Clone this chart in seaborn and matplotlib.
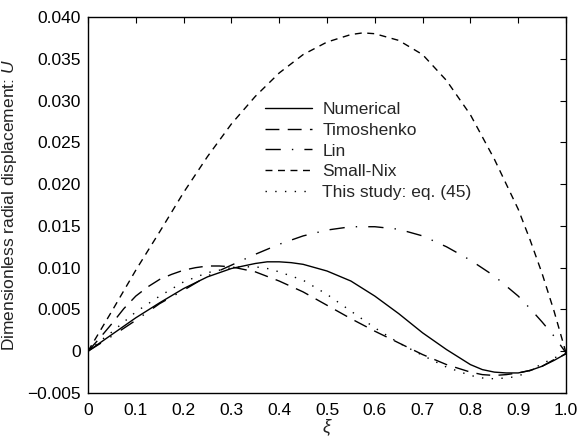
import numpy as np
import pandas as pd
import matplotlib
matplotlib.use("Agg")
import matplotlib.pyplot as plt
import seaborn as sns

# ---- data ----
xi_num = [0.0, 0.025, 0.05, 0.1, 0.15, 0.2, 0.25, 0.3, 0.35, 0.375, 0.4, 0.425, 0.45, 0.5,
          0.55, 0.6, 0.65, 0.7, 0.75, 0.8, 0.825, 0.85, 0.875, 0.9, 0.925, 0.95, 0.975, 1.0]
numerical = [0.0, 0.0010, 0.0020, 0.0040, 0.0058, 0.0075, 0.0089, 0.0099, 0.0105, 0.0107,
             0.0107, 0.0106, 0.0104, 0.0096, 0.0084, 0.0066, 0.0045, 0.0022, 0.0002,
             -0.0016, -0.0022, -0.0025, -0.0026, -0.0026, -0.0023, -0.0018, -0.0011, -0.0003]

xi_tim = [0.0, 0.025, 0.05, 0.075, 0.1, 0.125, 0.15, 0.175, 0.2, 0.225, 0.25, 0.275, 0.3,
          0.35, 0.4, 0.45, 0.5, 0.55, 0.6, 0.65, 0.7, 0.75, 0.8, 0.825, 0.85, 0.875, 0.9,
          0.925, 0.95, 0.975, 1.0]
timoshenko = [0.0, 0.0016, 0.0033, 0.0051, 0.0066, 0.0077, 0.0086, 0.0092, 0.0097, 0.0100,
              0.0102, 0.0102, 0.0101, 0.0095, 0.0084, 0.0071, 0.0055, 0.0039, 0.0024,
              0.0010, -0.0004, -0.0016, -0.0025, -0.0028, -0.0029, -0.0028, -0.0026,
              -0.0023, -0.0018, -0.0010, -0.0003]

xi_lin = [0.0, 0.05, 0.1, 0.15, 0.2, 0.25, 0.3, 0.35, 0.4, 0.45, 0.5, 0.55, 0.575, 0.6,
          0.65, 0.7, 0.75, 0.8, 0.85, 0.9, 0.925, 0.95, 0.975, 1.0]
lin = [0.0, 0.0018, 0.0037, 0.0057, 0.0073, 0.0090, 0.0103, 0.0116, 0.0128, 0.0138,
       0.0145, 0.0149, 0.0149, 0.0149, 0.0146, 0.0138, 0.0125, 0.0109, 0.0090, 0.0066,
       0.0051, 0.0035, 0.0018, -0.0002]

xi_sn = [0.0, 0.025, 0.05, 0.1, 0.15, 0.2, 0.25, 0.3, 0.35, 0.4, 0.45, 0.5, 0.55, 0.575,
         0.6, 0.65, 0.7, 0.75, 0.8, 0.85, 0.9, 0.925, 0.95, 0.975, 1.0]
small_nix = [0.0, 0.0024, 0.0048, 0.0097, 0.0143, 0.0190, 0.0233, 0.0272, 0.0305, 0.0333,
             0.0355, 0.0370, 0.0379, 0.0381, 0.0380, 0.0372, 0.0355, 0.0324, 0.0283,
             0.0230, 0.0170, 0.0133, 0.0093, 0.0048, -0.0002]

xi_ts = [0.0, 0.025, 0.05, 0.1, 0.15, 0.2, 0.25, 0.3, 0.325, 0.35, 0.375, 0.4, 0.45, 0.5,
         0.55, 0.6, 0.65, 0.7, 0.75, 0.8, 0.825, 0.85, 0.875, 0.9, 0.925, 0.95, 0.975, 1.0]
this_study = [0.0, 0.0012, 0.0023, 0.0047, 0.0066, 0.0083, 0.0094, 0.0100, 0.0101, 0.0101,
              0.0099, 0.0095, 0.0085, 0.0068, 0.0048, 0.0028, 0.0010, -0.0005, -0.0019,
              -0.0029, -0.0032, -0.0033, -0.0032, -0.0030, -0.0023, -0.0015, -0.0008,
              -0.0003]

series_names = ["Numerical", "Timoshenko", "Lin", "Small-Nix", "This study: eq. (45)"]
series_x = [xi_num, xi_tim, xi_lin, xi_sn, xi_ts]
series_vals = [numerical, timoshenko, lin, small_nix, this_study]

xticks = [0, 0.1, 0.2, 0.3, 0.4, 0.5, 0.6, 0.7, 0.8, 0.9, 1.0]
xtick_labels = ["0", "0.1", "0.2", "0.3", "0.4", "0.5", "0.6", "0.7", "0.8", "0.9", "1.0"]
yticks = [-0.005, 0, 0.005, 0.010, 0.015, 0.020, 0.025, 0.030, 0.035, 0.040]
ytick_labels = ["\u22120.005", "0", "0.005", "0.010", "0.015", "0.020", "0.025",
                "0.030", "0.035", "0.040"]

df = pd.concat([pd.DataFrame({"xi": x, "U": v, "model": n})
                for n, x, v in zip(series_names, series_x, series_vals)],
               ignore_index=True)

sns.set_theme(style="white")
plt.rcParams["font.family"] = ["Liberation Sans", "DejaVu Sans"]
plt.rcParams["mathtext.fontset"] = "custom"
plt.rcParams["mathtext.it"] = "Liberation Sans:italic"

fig = plt.figure(figsize=(5.78, 4.38), dpi=100)
ax = fig.add_axes([88 / 578, 1 - 393 / 438, (566 - 88) / 578, (393 - 17) / 438])

dashes = {
    "Numerical": "",
    "Timoshenko": (10, 6),
    "Lin": (11, 8, 1, 8),
    "Small-Nix": (5, 4),
    "This study: eq. (45)": (1, 6),
}
palette = {n: "black" for n in series_names}

sns.lineplot(data=df, x="xi", y="U", hue="model", style="model",
             hue_order=series_names, style_order=series_names,
             palette=palette, dashes=dashes, linewidth=1.0, ax=ax,
             estimator=None, sort=False)

ax.set_xlim(0, 1.0)
ax.set_ylim(-0.005, 0.040)
ax.set_xticks(xticks)
ax.set_xticklabels(xtick_labels)
ax.set_yticks(yticks)
ax.set_yticklabels(ytick_labels)
ax.tick_params(direction="in", top=True, right=True, length=4, width=0.8,
               labelsize=12.5, colors="black", pad=5)
ax.tick_params(axis="x", pad=7)
for s in ax.spines.values():
    s.set_color("black")
    s.set_linewidth(1.0)

ax.set_xlabel(r"$\xi$", fontsize=13, labelpad=0, color="#222222")
ax.set_ylabel("Dimensionless radial displacement: $U$", fontsize=12.5,
              labelpad=6, color="#222222")

handles, labels = ax.get_legend_handles_labels()
leg = ax.legend(handles, labels, loc="upper left", bbox_to_anchor=(0.37, 0.775),
                frameon=False, fontsize=12.5, handlelength=2.7, handletextpad=0.6,
                labelspacing=0.33, borderpad=0, borderaxespad=0)

fig.savefig("out.png", dpi=100)
